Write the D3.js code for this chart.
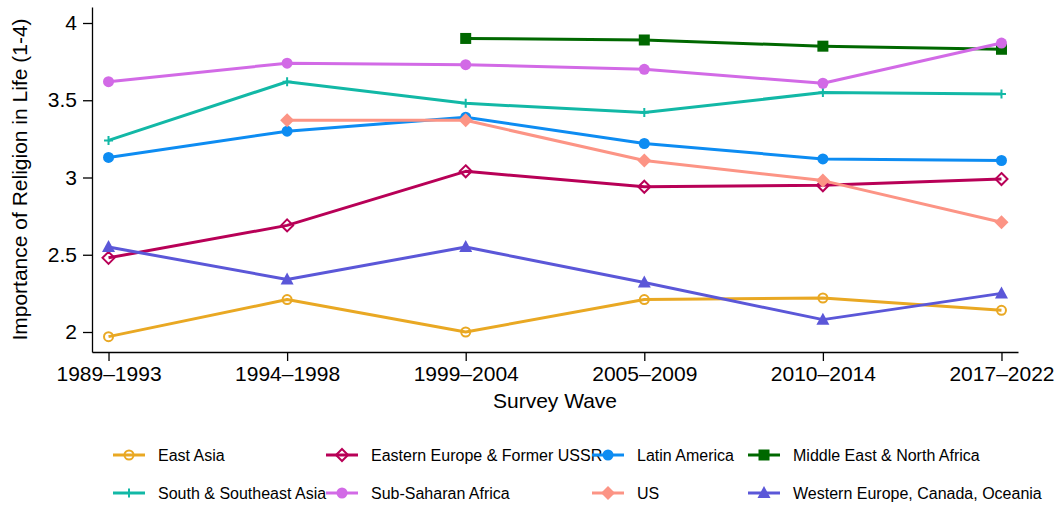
<!DOCTYPE html>
<html>
<head>
<meta charset="utf-8">
<script src="https://cdn.jsdelivr.net/npm/d3@7"></script>
<style>
  html, body { margin: 0; padding: 0; background: #fff; }
  svg { display: block; font-family: "Liberation Sans", Arial, Helvetica, sans-serif; }
</style>
</head>
<body>
<svg id="chart" width="1062" height="508"></svg>
<script>
// Survey waves (x categories)
const waves = ["1989–1993", "1994–1998", "1999–2004", "2005–2009", "2010–2014", "2017–2022"];
const yTicks = [2, 2.5, 3, 3.5, 4];
const yTickLabels = ["2", "2.5", "3", "3.5", "4"];

// Mean importance of religion per region and wave (null = not surveyed)
const eastAsia      = [1.97, 2.21, 2.00, 2.21, 2.22, 2.14];
const easternEurope = [2.48, 2.69, 3.04, 2.94, 2.95, 2.99];
const latinAmerica  = [3.13, 3.30, 3.39, 3.22, 3.12, 3.11];
const mena          = [null, null, 3.90, 3.89, 3.85, 3.83];
const southAsia     = [3.24, 3.62, 3.48, 3.42, 3.55, 3.54];
const subSaharan    = [3.62, 3.74, 3.73, 3.70, 3.61, 3.87];
const us            = [null, 3.37, 3.37, 3.11, 2.98, 2.71];
const westEurope    = [2.55, 2.34, 2.55, 2.32, 2.08, 2.25];

const regionNames = [
  "East Asia", "Eastern Europe & Former USSR", "Latin America", "Middle East & North Africa",
  "South & Southeast Asia", "Sub-Saharan Africa", "US", "Western Europe, Canada, Oceania"
];
const regionValues = [eastAsia, easternEurope, latinAmerica, mena, southAsia, subSaharan, us, westEurope];

const styles = [
  { color: "#E9A823", marker: "circleHollow" },
  { color: "#B80057", marker: "diamondHollow" },
  { color: "#0D8CF2", marker: "circle" },
  { color: "#006800", marker: "square" },
  { color: "#12B8A6", marker: "plus" },
  { color: "#D26AE6", marker: "circle" },
  { color: "#FC9485", marker: "diamond" },
  { color: "#5B57D8", marker: "triangle" }
];

const svg = d3.select("#chart");
const plotLeft = 92, plotRight = 1018, plotTop = 7, plotBottom = 352;

const x = d3.scalePoint().domain(waves).range([plotLeft, plotRight]).padding(0.0925);
const y = d3.scaleLinear()
  .domain([2 - 20 / 154.5, 4 + 16 / 154.5])
  .range([plotBottom, plotTop]);

// Axes
const yAxis = svg.append("g")
  .attr("transform", `translate(${plotLeft},0)`)
  .call(d3.axisLeft(y).tickValues(yTicks).tickFormat((d, i) => yTickLabels[i]).tickSize(9).tickSizeOuter(0).tickPadding(6));
const xAxis = svg.append("g")
  .attr("transform", `translate(0,${plotBottom})`)
  .call(d3.axisBottom(x).tickSize(9).tickSizeOuter(0).tickPadding(5));
[xAxis, yAxis].forEach(g => {
  g.selectAll("path, line").attr("stroke", "#000").attr("stroke-width", 1.3);
  g.selectAll("text").attr("font-size", 21).attr("fill", "#000").attr("font-family", "Liberation Sans, Arial, sans-serif");
});

// Axis titles
svg.append("text")
  .attr("x", (plotLeft + plotRight) / 2).attr("y", 408)
  .attr("text-anchor", "middle").attr("font-size", 21).attr("fill", "#000")
  .text("Survey Wave");
svg.append("text")
  .attr("transform", `translate(27,${(plotTop + plotBottom) / 2}) rotate(-90)`)
  .attr("text-anchor", "middle").attr("font-size", 21).attr("fill", "#000")
  .text("Importance of Religion in Life (1-4)");

function drawMarker(g, kind, color, cx, cy) {
  switch (kind) {
    case "circle":
      g.append("circle").attr("cx", cx).attr("cy", cy).attr("r", 5.5).attr("fill", color);
      break;
    case "circleHollow":
      g.append("circle").attr("cx", cx).attr("cy", cy).attr("r", 4.5)
        .attr("fill", "none").attr("stroke", color).attr("stroke-width", 2);
      break;
    case "square":
      g.append("rect").attr("x", cx - 5.5).attr("y", cy - 5.5).attr("width", 11).attr("height", 11).attr("fill", color);
      break;
    case "diamond":
      g.append("path").attr("d", `M${cx},${cy - 7}L${cx + 7},${cy}L${cx},${cy + 7}L${cx - 7},${cy}Z`).attr("fill", color);
      break;
    case "diamondHollow":
      g.append("path").attr("d", `M${cx},${cy - 6}L${cx + 6},${cy}L${cx},${cy + 6}L${cx - 6},${cy}Z`)
        .attr("fill", "none").attr("stroke", color).attr("stroke-width", 2);
      break;
    case "triangle":
      g.append("path").attr("d", `M${cx},${cy - 7}L${cx + 6.5},${cy + 5}L${cx - 6.5},${cy + 5}Z`).attr("fill", color);
      break;
    case "plus":
      g.append("path").attr("d", `M${cx - 4.5},${cy}H${cx + 4.5}M${cx},${cy - 4.5}V${cy + 4.5}`)
        .attr("stroke", color).attr("stroke-width", 2);
      break;
  }
}

// Series lines and markers
const line = d3.line()
  .defined(d => d.v != null)
  .x(d => x(d.w))
  .y(d => y(d.v));

regionValues.forEach((vals, i) => {
  const pts = vals.map((v, j) => ({ w: waves[j], v }));
  const g = svg.append("g");
  g.append("path").datum(pts)
    .attr("d", line)
    .attr("fill", "none")
    .attr("stroke", styles[i].color)
    .attr("stroke-width", 3)
    .attr("stroke-linejoin", "round");
  pts.filter(d => d.v != null).forEach(d => drawMarker(g, styles[i].marker, styles[i].color, x(d.w), y(d.v)));
});

// Legend
const legendCols = [113, 326, 592, 748];
const legendRows = [455, 493];
regionNames.forEach((name, i) => {
  const lx = legendCols[i % 4], ly = legendRows[Math.floor(i / 4)];
  const g = svg.append("g");
  g.append("line").attr("x1", lx).attr("x2", lx + 32).attr("y1", ly).attr("y2", ly)
    .attr("stroke", styles[i].color).attr("stroke-width", 3);
  drawMarker(g, styles[i].marker, styles[i].color, lx + 16, ly);
  g.append("text").attr("x", lx + 45).attr("y", ly + 6)
    .attr("font-size", 16).attr("fill", "#000").text(name);
});
</script>
</body>
</html>
